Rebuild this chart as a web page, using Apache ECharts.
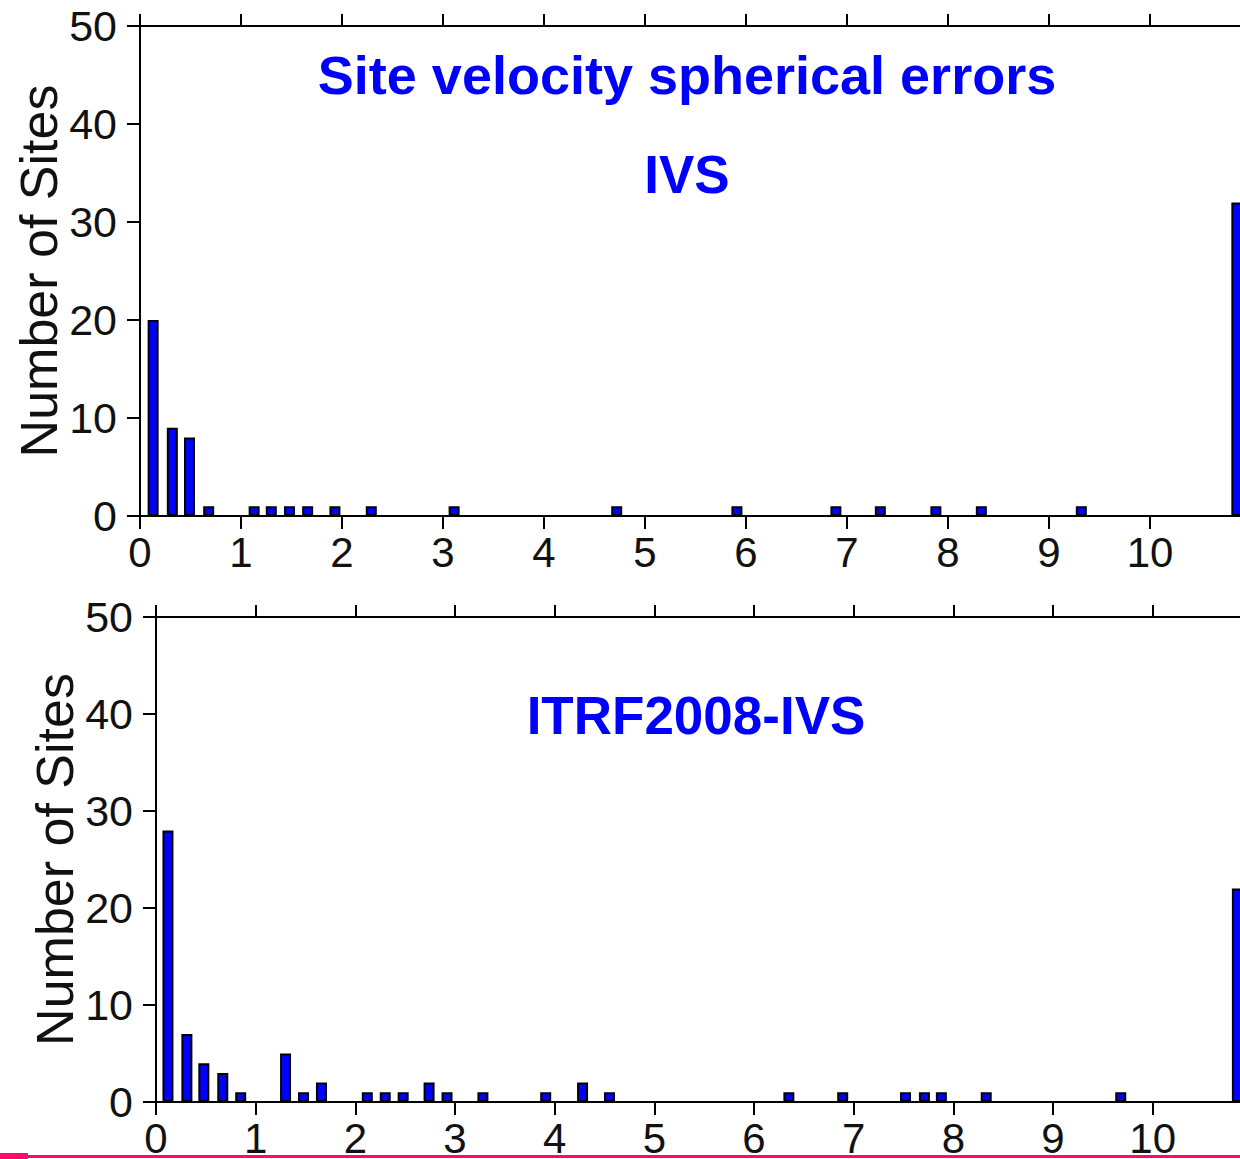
<!DOCTYPE html>
<html>
<head>
<meta charset="utf-8">
<script src="https://cdn.jsdelivr.net/npm/echarts@6/dist/echarts.min.js"></script>
<style>
  html, body { margin: 0; padding: 0; background: #fff; overflow: hidden; }
  #chart { width: 1400px; height: 1159px; }
</style>
</head>
<body>
<div id="chart"></div>
<script>
// bin centres (spherical error) and site counts
var ivsX = [0.13, 0.32, 0.49, 0.68, 1.13, 1.30, 1.48, 1.66, 1.93, 2.29, 3.11, 4.72, 5.91, 6.89, 7.33, 7.88, 8.33, 9.32, 10.86]
var ivsY = [20, 9, 8, 1, 1, 1, 1, 1, 1, 1, 1, 1, 1, 1, 1, 1, 1, 1, 32]

var itrfX = [0.12, 0.31, 0.48, 0.67, 0.85, 1.30, 1.48, 1.66, 2.12, 2.30, 2.48, 2.74, 2.92, 3.28, 3.91, 4.28, 4.55, 6.35, 6.89, 7.52, 7.71, 7.88, 8.33, 9.68, 10.85]
var itrfY = [28, 7, 4, 3, 1, 5, 1, 2, 1, 1, 1, 2, 1, 1, 1, 2, 1, 1, 1, 1, 1, 1, 1, 1, 22]

var yTicks = [0, 10, 20, 30, 40, 50]
var xLabelMax = 10

var titleMain = 'Site velocity spherical errors'
var titleTop = 'IVS'
var titleBottom = 'ITRF2008-IVS'
var yName = 'Number of Sites'

const FONT = 'Liberation Sans, Arial, sans-serif'
const BLUE = '#0000ff'

const pairs = (xs, ys) => xs.map((x, i) => [x, ys[i]])

const bottomAxis = (gi) => ({
    type: 'value', gridIndex: gi, position: 'bottom',
    min: 0, max: 12, interval: 1,
    axisLine: { onZero: false, lineStyle: { color: '#000', width: 2 } },
    axisTick: { inside: false, length: 13, lineStyle: { color: '#000', width: 2 } },
    axisLabel: {
        margin: 15, fontSize: 42, fontFamily: FONT, color: '#111',
        formatter: v => v > xLabelMax ? '' : String(v)
    },
    splitLine: { show: false }
})

const topAxis = (gi) => ({
    type: 'value', gridIndex: gi, position: 'top',
    min: 0, max: 12, interval: 1,
    axisLine: { onZero: false, lineStyle: { color: '#000', width: 2 } },
    axisTick: { inside: false, length: 12, lineStyle: { color: '#000', width: 2 } },
    axisLabel: { show: false },
    splitLine: { show: false }
})

const leftAxis = (gi) => ({
    type: 'value', gridIndex: gi,
    min: yTicks[0], max: yTicks[yTicks.length - 1], interval: 10,
    name: yName, nameLocation: 'middle', nameGap: 75, nameRotate: 90,
    nameMoveOverlap: false,
    nameTextStyle: { fontSize: 52, fontFamily: FONT, color: '#111' },
    axisLine: { show: true, lineStyle: { color: '#000', width: 2 } },
    axisTick: { show: true, inside: false, length: 13, lineStyle: { color: '#000', width: 2 } },
    axisLabel: { margin: 23, fontSize: 43, fontFamily: FONT, color: '#111' },
    splitLine: { show: false }
})

const barSeries = (gi, data) => ({
    type: 'bar',
    xAxisIndex: gi * 2, yAxisIndex: gi,
    barWidth: 11,
    itemStyle: { color: BLUE, borderColor: '#000', borderWidth: 2 },
    data: data
})

const headText = (txt, x, y, size) => ({
    type: 'text', x: x, y: y, z: 10,
    style: {
        text: txt, fill: BLUE, font: 'bold ' + size + 'px ' + FONT,
        textAlign: 'center', textVerticalAlign: 'middle'
    }
})

var chart = echarts.init(document.getElementById('chart'), null, { renderer: 'svg' })
chart.setOption({
    animation: false,
    backgroundColor: '#fff',
    grid: [
        { left: 140, top: 26, width: 1212, height: 490, outerBoundsMode: 'none' },
        { left: 156, top: 617, width: 1196, height: 485, outerBoundsMode: 'none' }
    ],
    xAxis: [bottomAxis(0), topAxis(0), bottomAxis(1), topAxis(1)],
    yAxis: [leftAxis(0), leftAxis(1)],
    series: [
        barSeries(0, pairs(ivsX, ivsY)),
        barSeries(1, pairs(itrfX, itrfY))
    ],
    graphic: [
        headText(titleMain, 687, 75, 54),
        headText(titleTop, 687, 174, 53),
        headText(titleBottom, 696, 715, 53),
        // pink crop marks along the lower edge
        { type: 'rect', shape: { x: 0, y: 1155, width: 1240, height: 3 }, style: { fill: '#ff0a6c' } },
        { type: 'rect', shape: { x: 0, y: 1153, width: 28, height: 6 }, style: { fill: '#ff0a6c' } }
    ]
})
</script>
</body>
</html>
